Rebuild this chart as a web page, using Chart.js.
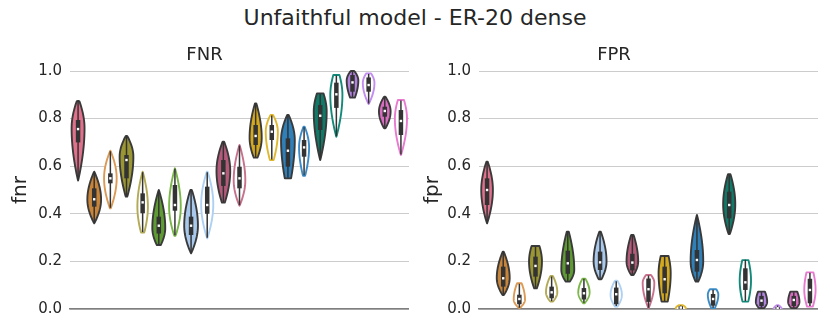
<!DOCTYPE html>
<html>
<head>
<meta charset="utf-8">
<script src="https://cdn.jsdelivr.net/npm/chart.js@4"></script>
<style>
  body { margin: 0; background: #fff; width: 830px; height: 332px; position: relative; overflow: hidden; font-family: "DejaVu Sans", sans-serif; }
  #sup { position: absolute; left: 0; top: 5px; width: 830px; text-align: center; font-size: 22px; color: #262626; }
  .panel { position: absolute; top: 38px; height: 294px; }
</style>
</head>
<body>
<div id="sup">Unfaithful model - ER-20 dense</div>
<div class="panel" style="left:0;width:409px"><canvas id="fnrChart"></canvas></div>
<div class="panel" style="left:410px;width:408px"><canvas id="fprChart"></canvas></div>
<script>
// 21 violins per panel, same order in both
const slots = ['1','2','3','4','5','6','7','8','9','10','11','12','13','14','15','16','17','18','19','20','21'];
const yTicks = [0, 0.2, 0.4, 0.6, 0.8, 1.0];

// FNR: range of each violin, quartiles and shape (peak position, relative width, end widths)
const fnrLo   = [0.54, 0.36, 0.423, 0.472, 0.321, 0.269, 0.308, 0.234, 0.297, 0.447, 0.434, 0.636, 0.626, 0.549, 0.56, 0.626, 0.724, 0.888, 0.861, 0.759, 0.647];
const fnrHi   = [0.88, 0.577, 0.665, 0.727, 0.577, 0.50, 0.591, 0.50, 0.577, 0.703, 0.689, 0.864, 0.815, 0.815, 0.766, 0.906, 0.983, 1.0, 0.99, 0.892, 0.878];
const fnrQ1   = [0.70, 0.43, 0.528, 0.549, 0.402, 0.317, 0.413, 0.311, 0.40, 0.517, 0.507, 0.689, 0.71, 0.598, 0.64, 0.752, 0.845, 0.913, 0.913, 0.808, 0.731];
const fnrMed  = [0.756, 0.461, 0.549, 0.626, 0.448, 0.35, 0.437, 0.35, 0.437, 0.57, 0.549, 0.727, 0.745, 0.665, 0.679, 0.812, 0.902, 0.952, 0.941, 0.832, 0.79];
const fnrQ3   = [0.794, 0.507, 0.57, 0.647, 0.486, 0.388, 0.521, 0.388, 0.514, 0.626, 0.598, 0.773, 0.773, 0.717, 0.71, 0.857, 0.951, 0.983, 0.973, 0.85, 0.836];
const fnrPeak = [0.76, 0.46, 0.55, 0.64, 0.43, 0.34, 0.43, 0.35, 0.44, 0.58, 0.54, 0.72, 0.745, 0.71, 0.68, 0.83, 0.90, 0.96, 0.95, 0.83, 0.80];
const fnrWid  = [0.80, 0.85, 0.78, 0.85, 0.65, 0.80, 0.72, 0.85, 0.75, 0.85, 0.72, 0.75, 0.75, 0.85, 0.62, 0.80, 0.75, 0.72, 0.72, 0.72, 0.75];
const fnrCapLo = [0, 0, 0.05, 0.1, 0.3, 0.3, 0.1, 0, 0, 0.2, 0, 0.3, 0.3, 0.45, 0.2, 0, 0, 0.4, 0, 0.1, 0];
const fnrCapHi = [0.1, 0, 0, 0.1, 0, 0, 0, 0.1, 0.05, 0.1, 0, 0.1, 0.2, 0.1, 0.1, 0.5, 0.5, 0.3, 0.4, 0.1, 0.5];

// FPR
const fprLo   = [0.36, 0.059, 0.003, 0.087, 0.031, 0.115, 0.024, 0.125, 0.010, 0.143, 0.003, 0.031, -0.01, 0.115, 0.003, 0.315, 0.031, 0.003, -0.01, 0.003, 0.010];
const fprHi   = [0.619, 0.245, 0.108, 0.265, 0.139, 0.329, 0.129, 0.329, 0.119, 0.311, 0.143, 0.227, 0.017, 0.395, 0.083, 0.566, 0.209, 0.073, 0.017, 0.073, 0.154];
const fprQ1   = [0.437, 0.094, 0.02, 0.136, 0.045, 0.148, 0.04, 0.164, 0.02, 0.162, 0.03, 0.066, 0.0, 0.157, 0.014, 0.381, 0.08, 0.012, 0.0, 0.012, 0.024];
const fprMed  = [0.50, 0.129, 0.042, 0.181, 0.07, 0.192, 0.066, 0.196, 0.062, 0.195, 0.083, 0.125, 0.006, 0.206, 0.042, 0.437, 0.112, 0.035, 0.003, 0.038, 0.08];
const fprQ3   = [0.549, 0.178, 0.06, 0.22, 0.094, 0.245, 0.088, 0.241, 0.09, 0.232, 0.128, 0.178, 0.012, 0.248, 0.063, 0.493, 0.171, 0.055, 0.008, 0.055, 0.127];
const fprPeak = [0.50, 0.13, 0.04, 0.20, 0.07, 0.165, 0.07, 0.20, 0.06, 0.20, 0.11, 0.15, 0.003, 0.20, 0.06, 0.44, 0.12, 0.03, 0.0, 0.03, 0.08];
const fprWid  = [0.72, 0.80, 0.70, 0.80, 0.70, 0.80, 0.70, 0.80, 0.70, 0.72, 0.72, 0.75, 0.62, 0.78, 0.65, 0.75, 0.70, 0.70, 0.50, 0.70, 0.70];
const fprCapLo = [0, 0.1, 0, 0.2, 0.2, 0.3, 0.1, 0.2, 0.2, 0.2, 0, 0.5, 0.9, 0.2, 0.3, 0.1, 0.5, 0.4, 0.5, 0.4, 0.5];
const fprCapHi = [0.1, 0, 0.4, 0.6, 0.2, 0.1, 0.2, 0.05, 0.2, 0.2, 0.4, 0.6, 0.3, 0, 0.6, 0.2, 0.5, 0.6, 0.1, 0.6, 0.6];

// fill colour (null = hollow) and outline colour for each slot
const fillColors = ['#e0718c', '#c8853a', null, '#9b9634', null, '#5e9b33', null, '#a8c8ec', null, '#b55a7a', null,
                    '#d4a91e', null, '#2f7fb8', null, '#0f7a68', null, '#b383e0', null, '#d86cc0', null];
const edgeColors = ['#3a3a3a', '#3a3a3a', '#dc9a55', '#3a3a3a', '#b3aa55', '#3a3a3a', '#7ab648', '#3a3a3a', '#aed0f2', '#3a3a3a', '#c8708c',
                    '#3a3a3a', '#e0b830', '#3a3a3a', '#3a8cc8', '#3a3a3a', '#13897a', '#3a3a3a', '#c38ef0', '#3a3a3a', '#e87ad0'];

const violinPlugin = {
  id: 'violins',
  afterDatasetsDraw(chart, args, opts) {
    const { ctx, chartArea, scales: { x, y } } = chart;
    const v = opts.v;
    const slot = (chartArea.right - chartArea.left) / slots.length;
    ctx.save();
    ctx.beginPath();
    ctx.rect(chartArea.left - 5, chartArea.top - 1, chartArea.right - chartArea.left + 10, chartArea.bottom - chartArea.top + 1);
    ctx.clip();
    slots.forEach((s, i) => {
      const cx = x.getPixelForValue(i);
      const lo = v.lo[i], hi = v.hi[i], pk = v.peak[i];
      const half = v.wid[i] * slot / 2;
      const n = 48;
      const pts = [];
      for (let k = 0; k <= n; k++) {
        const val = lo + (hi - lo) * k / n;
        let u, cap;
        if (val <= pk) { u = pk > lo ? (val - lo) / (pk - lo) : 1; cap = v.capLo[i]; }
        else { u = hi > pk ? (hi - val) / (hi - pk) : 1; cap = v.capHi[i]; }
        const p = cap + (1 - cap) * Math.pow(Math.sin(u * Math.PI / 2), 0.9);
        pts.push([y.getPixelForValue(val), p * half]);
      }
      ctx.beginPath();
      pts.forEach(([py, w], k) => k ? ctx.lineTo(cx - w, py) : ctx.moveTo(cx - w, py));
      for (let k = pts.length - 1; k >= 0; k--) ctx.lineTo(cx + pts[k][1], pts[k][0]);
      ctx.closePath();
      ctx.fillStyle = fillColors[i] || '#ffffff';
      ctx.fill();
      ctx.lineWidth = 1.9;
      ctx.lineJoin = 'round';
      ctx.strokeStyle = edgeColors[i];
      ctx.stroke();

      // whisker + box + median
      ctx.strokeStyle = '#333333';
      ctx.lineCap = 'butt';
      ctx.lineWidth = 1.5;
      ctx.beginPath();
      ctx.moveTo(cx, y.getPixelForValue(Math.max(0, lo)) - 0.5);
      ctx.lineTo(cx, y.getPixelForValue(hi) + 0.5);
      ctx.stroke();
      ctx.lineWidth = 4.5;
      ctx.beginPath();
      ctx.moveTo(cx, y.getPixelForValue(v.q1[i]));
      ctx.lineTo(cx, y.getPixelForValue(v.q3[i]));
      ctx.stroke();
      ctx.fillStyle = '#ffffff';
      const my = y.getPixelForValue(v.med[i]);
      ctx.fillRect(cx - 1.2, my - 1.2, 2.4, 2.4);
    });
    ctx.restore();
  }
};

function makePanel(id, title, yLabel, axisWidth, labelPad, v) {
  new Chart(document.getElementById(id), {
    type: 'line',
    data: {
      labels: slots,
      datasets: [{ data: v.med, showLine: false, pointRadius: 0 }]
    },
    plugins: [violinPlugin],
    options: {
      responsive: true,
      maintainAspectRatio: false,
      animation: false,
      plugins: {
        legend: { display: false },
        tooltip: { enabled: false },
        title: {
          display: true, text: title, color: '#262626',
          font: { family: 'DejaVu Sans', size: 18, weight: 'normal' },
          padding: { top: 7, bottom: 4.4 }
        },
        violins: { v }
      },
      scales: {
        x: {
          offset: true,
          grid: { display: false },
          ticks: { display: false },
          border: { display: true, color: '#7f7f7f', width: 1.6 },
          afterFit: s => { s.height = 23; }
        },
        y: {
          min: 0, max: 1,
          afterBuildTicks: s => { s.ticks = yTicks.map(t => ({ value: t })); },
          ticks: {
            padding: 8, color: '#262626',
            font: { family: 'DejaVu Sans', size: 15 },
            callback: val => val.toFixed(1)
          },
          grid: { color: '#cccccc', lineWidth: 1, drawTicks: false },
          border: { display: false },
          title: {
            display: true, text: yLabel, color: '#262626',
            font: { family: 'DejaVu Sans', size: 20 },
            padding: { top: labelPad, bottom: 0 }
          },
          afterFit: s => { s.width = axisWidth; }
        }
      }
    }
  });
}

makePanel('fnrChart', 'FNR', 'fnr', 70, 9, {
  lo: fnrLo, hi: fnrHi, q1: fnrQ1, med: fnrMed, q3: fnrQ3, peak: fnrPeak, wid: fnrWid, capLo: fnrCapLo, capHi: fnrCapHi
});
makePanel('fprChart', 'FPR', 'fpr', 69, 11, {
  lo: fprLo, hi: fprHi, q1: fprQ1, med: fprMed, q3: fprQ3, peak: fprPeak, wid: fprWid, capLo: fprCapLo, capHi: fprCapHi
});
</script>
</body>
</html>
